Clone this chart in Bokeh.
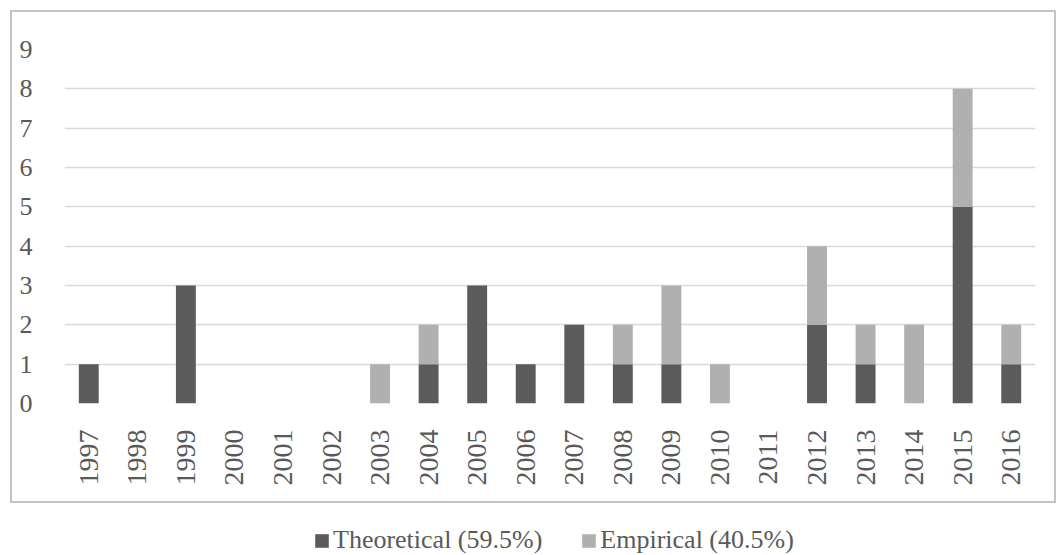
import math
from bokeh.plotting import figure
from bokeh.models import Legend, LegendItem, ColumnDataSource, Spacer
from bokeh.layouts import column, row
from bokeh.embed import file_html
from bokeh.resources import INLINE

years = [str(y) for y in range(1997, 2017)]
theoretical = [1, 0, 3, 0, 0, 0, 0, 1, 3, 1, 2, 1, 1, 0, 0, 2, 1, 0, 5, 1]
empirical = [0, 0, 0, 0, 0, 0, 1, 1, 0, 0, 0, 1, 2, 1, 0, 2, 1, 2, 3, 1]
series = ["Theoretical", "Empirical"]
labels = ["Theoretical (59.5%)", "Empirical (40.5%)"]
colors = ["#5b5b5b", "#b0b0b0"]
y_ticks = list(range(0, 10))

FONT = "Liberation Serif"
TXT = "#595959"

source = ColumnDataSource(dict(years=years, Theoretical=theoretical, Empirical=empirical))

p = figure(x_range=years, y_range=(0, 9), width=1046, height=493,
           output_backend="svg", toolbar_location=None,
           min_border_left=52, min_border_right=23, min_border_top=37, min_border_bottom=102)
p.styles = {"border": "2px solid #c4c4c4", "box-sizing": "border-box"}
p.outline_line_color = None
p.vbar_stack(series, x="years", width=0.41, fill_color=colors, line_color=None, source=source)

p.xgrid.grid_line_color = None
p.ygrid.grid_line_color = "#d9d9d9"
p.ygrid.grid_line_width = 1.5
p.yaxis.ticker = y_ticks
for ax in (p.xaxis, p.yaxis):
    ax.axis_line_color = None
    ax.major_tick_line_color = None
    ax.minor_tick_line_color = None
    ax.major_label_text_font = FONT
    ax.major_label_text_color = TXT
p.yaxis.major_label_text_font_size = "26px"
p.xaxis.major_label_text_font_size = "28px"
p.yaxis.major_label_standoff = 26
p.xaxis.major_label_standoff = 20
p.xaxis.major_label_orientation = math.pi / 2

# legend strip below the bordered chart (its bars lie outside the visible range)
q = figure(x_range=years, y_range=(100, 101), width=1056, height=52,
           output_backend="svg", toolbar_location=None, min_border=0,
           x_axis_type=None, y_axis_type=None)
q.outline_line_color = None
q.grid.visible = False
rs = q.vbar_stack(series, x="years", width=0.41, fill_color=colors, line_color=None, source=source)
legend = Legend(items=[LegendItem(label=labels[i], renderers=[rs[i]]) for i in range(2)],
                orientation="horizontal", location=(313, 0),
                border_line_color=None, background_fill_alpha=0,
                padding=0, margin=0, spacing=38,
                glyph_width=17, glyph_height=17, label_standoff=3,
                label_text_font=FONT, label_text_font_size="26px",
                label_text_color=TXT)
q.add_layout(legend)

layout = column(Spacer(height=10), row(Spacer(width=10), p, spacing=0), q, spacing=0)
open("out.html", "w").write(file_html(layout, INLINE))
